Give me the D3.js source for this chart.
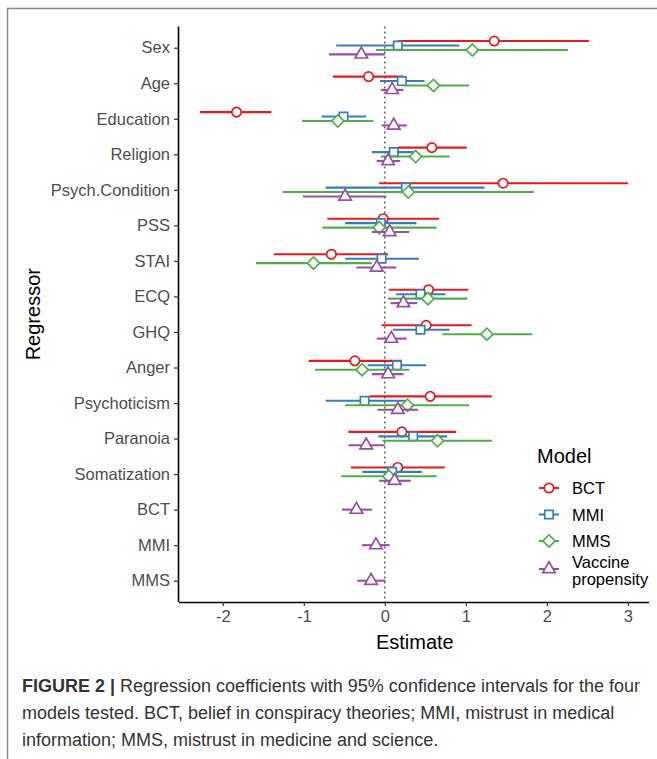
<!DOCTYPE html>
<html>
<head>
<meta charset="utf-8">
<script src="https://cdn.jsdelivr.net/npm/d3@7"></script>
<style>
  body { margin: 0; background: #fff; }
  text { font-family: "Liberation Sans", Arial, sans-serif; }
</style>
</head>
<body>
<script>
const width = 657;
const height = 759;

const regressors = ["Sex", "Age", "Education", "Religion", "Psych.Condition", "PSS", "STAI",
  "ECQ", "GHQ", "Anger", "Psychoticism", "Paranoia", "Somatization", "BCT", "MMI", "MMS"];
const models = ["BCT", "MMI", "MMS", "Vaccine propensity"];
const colors = ["#E41A1C", "#377EB8", "#4DAF4A", "#984EA3"];
const shapes = ["circle", "square", "diamond", "triangle"];

// [estimate, lower, upper], same order as regressors
const bct = [[1.35, 0.16, 2.52], [-0.20, -0.64, 0.23], [-1.83, -2.28, -1.40], [0.58, 0.16, 1.01],
  [1.46, -0.07, 3.00], [-0.02, -0.71, 0.67], [-0.66, -1.37, 0.04], [0.54, 0.05, 1.03],
  [0.51, -0.04, 1.07], [-0.37, -0.94, 0.21], [0.56, -0.19, 1.32], [0.21, -0.45, 0.88],
  [0.16, -0.42, 0.74]];
const mmi = [[0.16, -0.60, 0.92], [0.21, -0.06, 0.49], [-0.51, -0.78, -0.23], [0.11, -0.16, 0.39],
  [0.26, -0.73, 1.23], [-0.05, -0.49, 0.39], [-0.04, -0.49, 0.42], [0.44, 0.14, 0.75],
  [0.44, 0.10, 0.80], [0.15, -0.21, 0.51], [-0.25, -0.73, 0.27], [0.35, -0.08, 0.77],
  [0.09, -0.28, 0.46]];
const mms = [[1.08, -0.11, 2.26], [0.60, 0.23, 1.04], [-0.58, -1.02, -0.14], [0.38, -0.05, 0.80],
  [0.29, -1.26, 1.84], [-0.07, -0.77, 0.64], [-0.88, -1.59, -0.16], [0.53, 0.04, 1.02],
  [1.26, 0.71, 1.82], [-0.28, -0.86, 0.30], [0.28, -0.49, 1.04], [0.65, -0.03, 1.32],
  [0.05, -0.54, 0.64]];
const vaccine = [[-0.29, -0.69, 0.00], [0.09, -0.05, 0.23], [0.11, -0.04, 0.27], [0.04, -0.10, 0.19],
  [-0.49, -1.01, 0.02], [0.06, -0.16, 0.30], [-0.10, -0.35, 0.14], [0.23, 0.07, 0.40],
  [0.08, -0.10, 0.27], [0.04, -0.16, 0.23], [0.16, -0.09, 0.41], [-0.23, -0.45, 0.00],
  [0.12, -0.07, 0.32], [-0.35, -0.53, -0.16], [-0.11, -0.28, 0.06], [-0.17, -0.34, 0.01]];
const xTicks = [-2, -1, 0, 1, 2, 3];

const series = [bct, mmi, mms, vaccine];
const rows = [];
series.forEach((s, m) => s.forEach((v, i) => {
  rows.push({ model: m, reg: regressors[i], est: v[0], lo: v[1], hi: v[2] });
}));

const plot = { left: 179, right: 649, top: 26.4, bottom: 602 };

const svg = d3.select("body").append("svg")
  .attr("width", width)
  .attr("height", height);

// figure frame
svg.append("path")
  .attr("d", `M7.5,${height} V8.5 H${width}`)
  .attr("fill", "none")
  .attr("stroke", "#8a8a8a")
  .attr("stroke-width", 1.5);

const x = d3.scaleLinear().domain([-2.54, 3.26]).range([plot.left, plot.right]);
const y = d3.scalePoint().domain(regressors).range([plot.top, plot.bottom]).padding(0.6);

// dodge within each regressor
const counts = d3.rollup(rows, v => v.length, d => d.reg);
const dodge = d => {
  const n = counts.get(d.reg);
  if (n === 1) return 0;
  return (d.model - (n - 1) / 2) * 0.5 / n * y.step();
};

svg.append("line")
  .attr("x1", x(0)).attr("x2", x(0))
  .attr("y1", plot.top).attr("y2", plot.bottom)
  .attr("stroke", "#555")
  .attr("stroke-width", 1.4)
  .attr("stroke-dasharray", "2,3");

const symbolPath = (shape) => {
  if (shape === "circle") return d3.symbol(d3.symbolCircle, Math.PI * 4.7 * 4.7)();
  if (shape === "square") return d3.symbol(d3.symbolSquare, 8.4 * 8.4)();
  if (shape === "diamond") return d3.symbol(d3.symbolSquare, 8.6 * 8.6)();
  return d3.symbol(d3.symbolTriangle, Math.sqrt(3) / 4 * 12.5 * 12.5)();
};

const marks = svg.append("g");
rows.forEach(d => {
  const cy = y(d.reg) + dodge(d);
  const g = marks.append("g");
  g.append("line")
    .attr("x1", x(d.lo)).attr("x2", x(d.hi))
    .attr("y1", cy).attr("y2", cy)
    .attr("stroke", colors[d.model])
    .attr("stroke-width", 2.1);
  g.append("path")
    .attr("d", symbolPath(shapes[d.model]))
    .attr("transform", `translate(${x(d.est)},${cy})` + (shapes[d.model] === "diamond" ? " rotate(45)" : ""))
    .attr("fill", "#fff")
    .attr("stroke", colors[d.model])
    .attr("stroke-width", 1.7);
});

// axes
const xAxis = svg.append("g")
  .attr("transform", `translate(0,${plot.bottom})`)
  .call(d3.axisBottom(x).tickValues(xTicks).tickSize(4).tickPadding(4).tickFormat(d => String(d)));
const yAxis = svg.append("g")
  .attr("transform", `translate(${plot.left},0)`)
  .call(d3.axisLeft(y).tickSize(5).tickPadding(4));

[xAxis, yAxis].forEach(a => {
  a.select(".domain").attr("stroke", "#000").attr("stroke-width", 1.6);
  a.selectAll(".tick line").attr("stroke", "#333").attr("stroke-width", 1.2);
  a.selectAll(".tick text")
    .attr("fill", "#4d4d4d")
    .style("font-size", "16.5px")
    .style("font-family", '"Liberation Sans", Arial, sans-serif');
});
xAxis.select(".domain").attr("d", `M${plot.left},0.5H${plot.right}`);
yAxis.select(".domain").attr("d", `M-0.5,${plot.top}V${plot.bottom}`);

svg.append("text")
  .attr("x", x(0.37)).attr("y", 649)
  .attr("text-anchor", "middle")
  .style("font-size", "20px")
  .attr("fill", "#000")
  .text("Estimate");

svg.append("text")
  .attr("transform", `translate(40,${(plot.top + plot.bottom) / 2}) rotate(-90)`)
  .attr("text-anchor", "middle")
  .style("font-size", "20px")
  .attr("fill", "#000")
  .text("Regressor");

// legend
const legend = svg.append("g").attr("transform", "translate(537,0)");
legend.append("text")
  .attr("x", 0).attr("y", 463)
  .style("font-size", "20px")
  .text("Model");
const keyY = [488, 514.5, 541, 569];
models.forEach((m, i) => {
  const k = legend.append("g").attr("transform", `translate(12,${keyY[i]})`);
  k.append("line").attr("x1", -10).attr("x2", 10)
    .attr("stroke", colors[i]).attr("stroke-width", 2.1);
  k.append("path")
    .attr("d", symbolPath(shapes[i]))
    .attr("transform", shapes[i] === "diamond" ? "rotate(45)" : null)
    .attr("fill", "#fff")
    .attr("stroke", colors[i])
    .attr("stroke-width", 1.7);
  const t = k.append("text")
    .attr("x", 23)
    .style("font-size", "16.5px")
    .attr("fill", "#000");
  if (m === "Vaccine propensity") {
    t.append("tspan").attr("x", 23).attr("y", -1.5).text("Vaccine");
    t.append("tspan").attr("x", 23).attr("y", 15.5).text("propensity");
  } else {
    t.attr("y", 6).text(m);
  }
});

// caption
const caption = svg.append("text")
  .attr("x", 22)
  .style("font-size", "18px")
  .attr("fill", "#333");
caption.append("tspan").attr("x", 22).attr("y", 692)
  .style("font-weight", "bold").text("FIGURE 2 | ");
caption.append("tspan")
  .text("Regression coefficients with 95% confidence intervals for the four");
caption.append("tspan").attr("x", 22).attr("y", 719)
  .text("models tested. BCT, belief in conspiracy theories; MMI, mistrust in medical");
caption.append("tspan").attr("x", 22).attr("y", 746)
  .text("information; MMS, mistrust in medicine and science.");
</script>
</body>
</html>
